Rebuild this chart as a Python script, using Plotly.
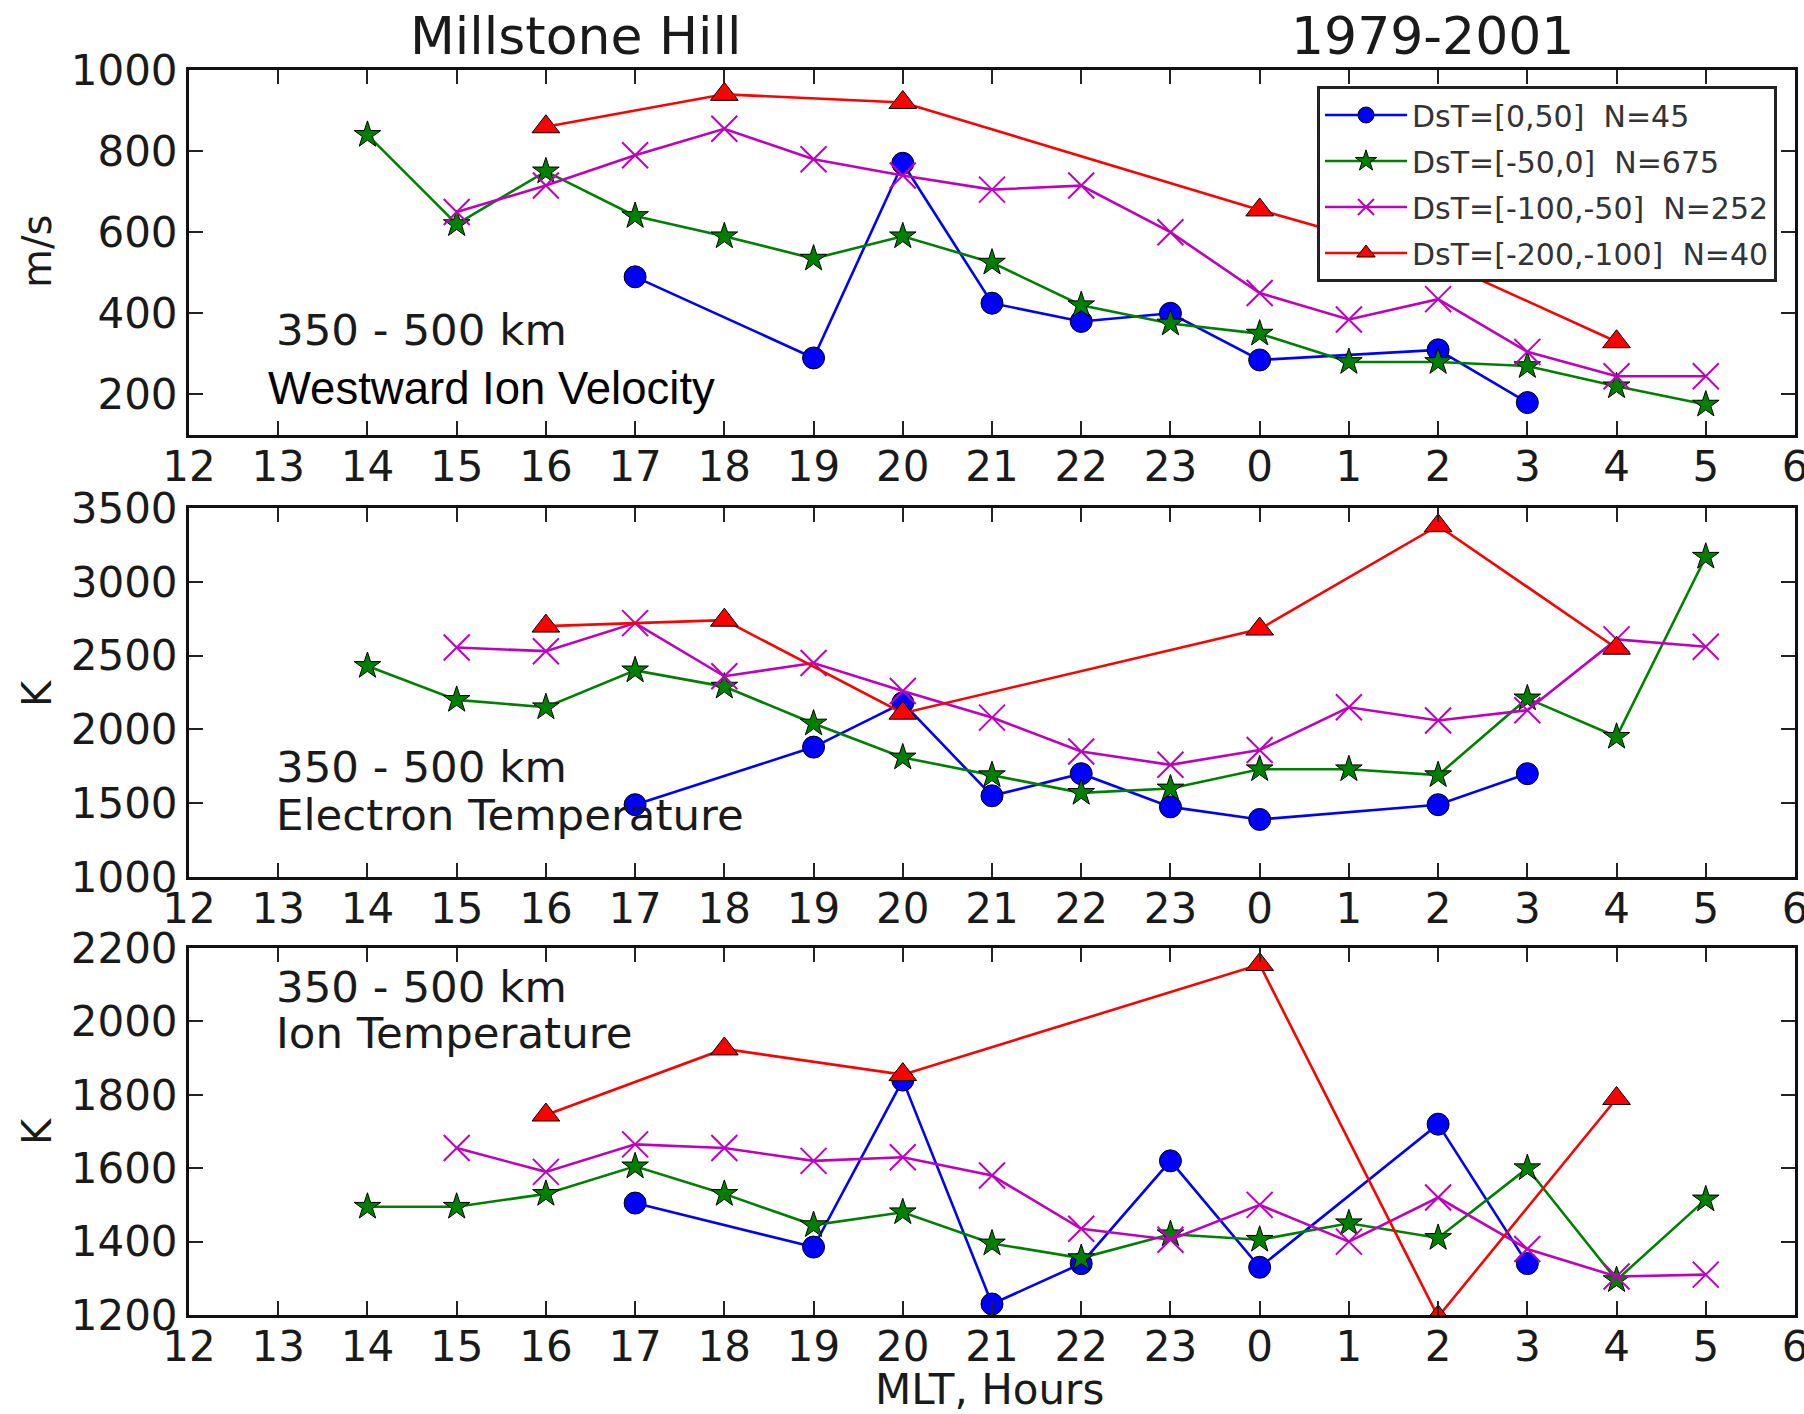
import plotly.graph_objects as go
from plotly.subplots import make_subplots

# ---------------- data ----------------
tick_hours = [12, 13, 14, 15, 16, 17, 18, 19, 20, 21, 22, 23, 0, 1, 2, 3, 4, 5, 6]

series_names = ["DsT=[0,50]  N=45", "DsT=[-50,0]  N=675",
                "DsT=[-100,-50]  N=252", "DsT=[-200,-100]  N=40"]

hours_blue = [17, 19, 20, 21, 22, 23, 0, 2, 3]
hours_green = [14, 15, 16, 17, 18, 19, 20, 21, 22, 23, 0, 1, 2, 3, 4, 5]
hours_magenta = [15, 16, 17, 18, 19, 20, 21, 22, 23, 0, 1, 2, 3, 4, 5]
hours_red = [16, 18, 20, 0, 2, 4]

# Panel 1: westward ion velocity (m/s)
vel_blue = [490, 290, 770, 425, 380, 400, 285, 310, 180]
vel_green = [840, 620, 750, 640, 590, 535, 590, 525, 420, 375, 350, 280, 280, 270, 220, 175]
vel_magenta = [650, 715, 790, 855, 780, 740, 705, 715, 600, 450, 385, 435, 305, 245, 245]
vel_red = [860, 940, 920, 655, 530, 330]

# Panel 2: electron temperature (K)
te_blue = [1490, 1880, 2180, 1550, 1700, 1475, 1390, 1490, 1700]
te_green = [2430, 2200, 2150, 2400, 2290, 2040, 1810, 1690, 1570, 1600, 1730, 1730, 1690, 2210, 1950, 3170]
te_magenta = [2555, 2530, 2720, 2360, 2450, 2260, 2080, 1850, 1760, 1860, 2150, 2060, 2130, 2610, 2560]
te_red = [2700, 2740, 2110, 2680, 3380, 2550]

# Panel 3: ion temperature (K)
ti_blue = [1505, 1385, 1840, 1230, 1340, 1620, 1330, 1720, 1340]
ti_green = [1495, 1495, 1530, 1605, 1530, 1445, 1480, 1395, 1355, 1420, 1405, 1450, 1410, 1600, 1295, 1515]
ti_magenta = [1655, 1590, 1665, 1655, 1620, 1630, 1580, 1435, 1405, 1500, 1400, 1520, 1380, 1305, 1310]
ti_red = [1745, 1925, 1855, 2155, 1195, 1790]

panel_titles = ["Westward Ion Velocity", "Electron Temperature", "Ion Temperature"]
y_titles = ["m/s", "K", "K"]
y_ranges = [[100, 1000], [1000, 3500], [1200, 2200]]
y_ticks = [[200, 400, 600, 800, 1000],
           [1000, 1500, 2000, 2500, 3000, 3500],
           [1200, 1400, 1600, 1800, 2000, 2200]]


def unwrap(hours):
    return [h if h >= 12 else h + 24 for h in hours]


# ---------------- figure ----------------
W, H = 1804, 1414
L, R, T, B = 189, 9, 70, 99
ph = H - T - B

def dom(top_px, bot_px):
    return [(H - B - bot_px) / ph, (H - B - top_px) / ph]

fig = make_subplots(rows=3, cols=1)
domains = [dom(70, 435), dom(508, 877), dom(948, 1315)]

styles = [
    dict(color="#0000ff", symbol="circle", size=22, lw=2.6),
    dict(color="#008000", symbol="star", size=20, lw=2.6),
    dict(color="#bf00bf", symbol="x-thin", size=26, lw=2.6),
    dict(color="#ff0000", symbol="triangle-up", size=24, lw=2.6),
]

panels = [
    [(hours_blue, vel_blue), (hours_green, vel_green), (hours_magenta, vel_magenta), (hours_red, vel_red)],
    [(hours_blue, te_blue), (hours_green, te_green), (hours_magenta, te_magenta), (hours_red, te_red)],
    [(hours_blue, ti_blue), (hours_green, ti_green), (hours_magenta, ti_magenta), (hours_red, ti_red)],
]

for p, series in enumerate(panels):
    for s, (hrs, vals) in enumerate(series):
        st = styles[s]
        if st["symbol"] == "x-thin":
            marker = dict(symbol="x-thin", size=st["size"], color=st["color"],
                          line=dict(color=st["color"], width=2))
        else:
            marker = dict(symbol=st["symbol"], size=st["size"], color=st["color"],
                          line=dict(color="black", width=1))
        fig.add_trace(go.Scatter(
            x=unwrap(hrs), y=vals, mode="lines+markers",
            name=series_names[s], legendgroup=f"g{s}", showlegend=(p == 0),
            line=dict(color=st["color"], width=st["lw"]),
            marker=marker,
        ), row=p + 1, col=1)

axis_font = dict(family="DejaVu Sans", size=42, color="#1a1a1a")
for p in range(3):
    fig.update_xaxes(
        range=[12, 30], tickvals=list(range(12, 31)), ticktext=[str(h) for h in tick_hours],
        ticks="inside", ticklen=14, tickwidth=2, tickcolor="#222",
        showline=True, linecolor="#111", linewidth=3, mirror="ticks",
        showgrid=False, zeroline=False, tickfont=axis_font, automargin=False,
        ticklabelstandoff=-7, ticklabeloverflow="allow",
        row=p + 1, col=1)
    fig.update_yaxes(
        range=y_ranges[p], tickvals=y_ticks[p], domain=domains[p],
        ticks="inside", ticklen=14, tickwidth=2, tickcolor="#222",
        showline=True, linecolor="#111", linewidth=3, mirror="ticks",
        showgrid=False, zeroline=False, tickfont=axis_font, automargin=False,
        ticklabeloverflow="allow",
        row=p + 1, col=1)

def xp(px):
    return (px - L) / (W - L - R)

def yp(py):
    return (H - B - py) / ph

ann = []
def add_text(text, xpx, ypx, font, xanchor="center", angle=0):
    ann.append(dict(text=text, x=xp(xpx), y=yp(ypx), xref="paper", yref="paper",
                    xanchor=xanchor, yanchor="middle", showarrow=False,
                    textangle=angle, font=font))

title_font = dict(family="DejaVu Sans", size=52, color="#1a1a1a")
add_text("Millstone Hill", 575, 36, title_font)
add_text("1979-2001", 1432, 36, title_font)

# axis titles
add_text("MLT, Hours", 989, 1389, dict(family="DejaVu Sans", size=42, color="#1a1a1a"))
ytitle_centers = [252, 693, 1131]
for p in range(3):
    add_text(y_titles[p], 37, ytitle_centers[p],
             dict(family="DejaVu Sans", size=40, color="#1a1a1a"), angle=-90)

label_font = dict(family="DejaVu Sans", size=43.5, color="#1a1a1a")
label_pos = [(330, 388), (767, 815), (987, 1033)]
for p in range(3):
    add_text("350 - 500 km", 274, label_pos[p][0], label_font, xanchor="left")
    if p == 0:
        add_text(panel_titles[p], 266, label_pos[p][1],
                 dict(family="Liberation Sans", size=45.5, color="black"), xanchor="left")
    else:
        add_text(panel_titles[p], 274, label_pos[p][1], label_font, xanchor="left")

fig.update_layout(
    width=W, height=H,
    margin=dict(l=L, r=R, t=T, b=B, autoexpand=False),
    paper_bgcolor="white", plot_bgcolor="white",
    annotations=ann,
    legend=dict(x=xp(1317), y=yp(86), xanchor="left", yanchor="top",
                bgcolor="white", bordercolor="#222", borderwidth=3,
                font=dict(family="DejaVu Sans", size=30, color="#333"),
                itemwidth=82, tracegroupgap=4),
)

fig.write_html("out.html", config={"displayModeBar": False},
               post_script="document.body.style.margin='0px';")
